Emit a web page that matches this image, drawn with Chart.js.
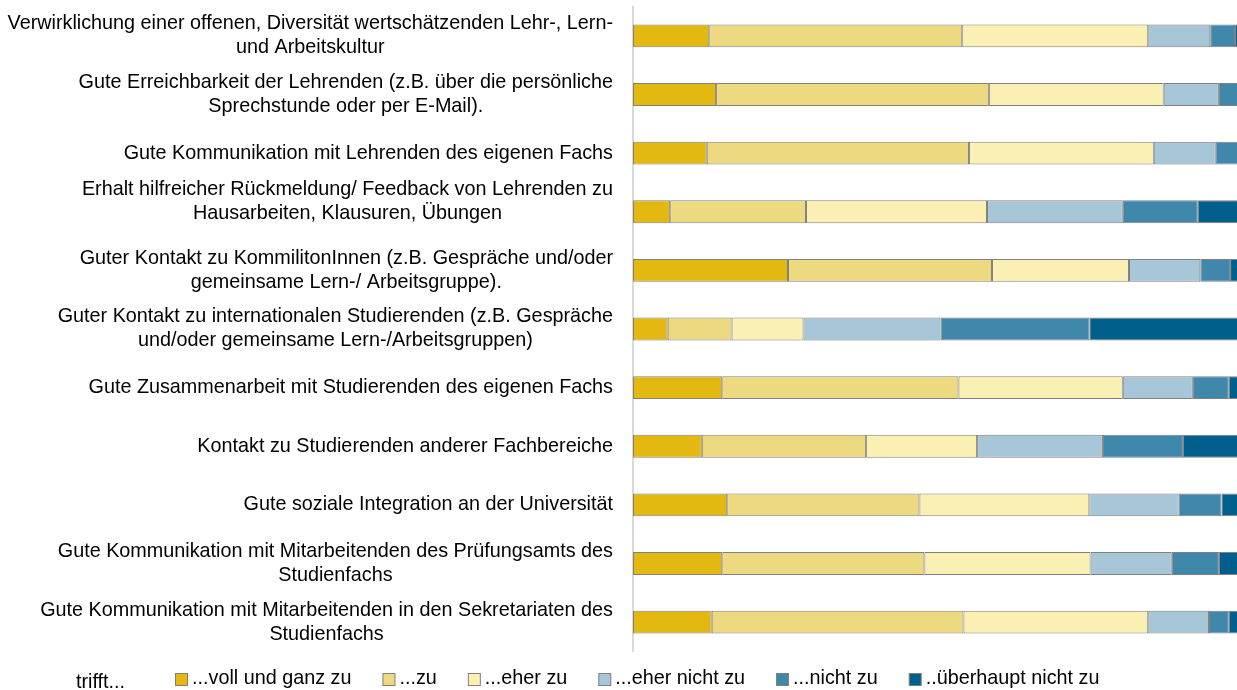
<!DOCTYPE html>
<html>
<head>
<meta charset="utf-8">
<script src="https://cdn.jsdelivr.net/npm/chart.js@4"></script>
<style>
  html, body { margin: 0; padding: 0; background: #fff; overflow: hidden; }
  #wrap { position: relative; width: 1260px; height: 690px; }
</style>
</head>
<body>
<div id="wrap"><canvas id="chart" width="1260" height="690"></canvas></div>
<script>
/* Stacked 100% bars – Zufriedenheit mit Lehr-/Lernkultur */

const categories = [
  ['Verwirklichung einer offenen, Diversität wertschätzenden Lehr-, Lern-', 'und Arbeitskultur'],
  ['Gute Erreichbarkeit der Lehrenden (z.B. über die persönliche', 'Sprechstunde oder per E-Mail).'],
  ['Gute Kommunikation mit Lehrenden des eigenen Fachs'],
  ['Erhalt hilfreicher Rückmeldung/ Feedback von Lehrenden zu', 'Hausarbeiten, Klausuren, Übungen'],
  ['Guter Kontakt zu KommilitonInnen (z.B. Gespräche und/oder', 'gemeinsame Lern-/ Arbeitsgruppe).'],
  ['Guter Kontakt zu internationalen Studierenden (z.B. Gespräche', 'und/oder gemeinsame Lern-/Arbeitsgruppen)'],
  ['Gute Zusammenarbeit mit Studierenden des eigenen Fachs'],
  ['Kontakt zu Studierenden anderer Fachbereiche'],
  ['Gute soziale Integration an der Universität'],
  ['Gute Kommunikation mit Mitarbeitenden des Prüfungsamts des', 'Studienfachs'],
  ['Gute Kommunikation mit Mitarbeitenden in den Sekretariaten des', 'Studienfachs']
];

const seriesNames = ['...voll und ganz zu', '...zu', '...eher zu', '...eher nicht zu', '...nicht zu', '..überhaupt nicht zu'];
const seriesColors = ['#e2b811', '#edd97f', '#fbf0b4', '#a7c6d8', '#3f87ab', '#005f8c'];

// percentages per answer category
const vollUndGanz = [12.3, 13.4, 11.9,  6.0, 25.0,  5.6, 14.4, 11.1, 15.2, 14.4, 12.7];
const zu          = [40.8, 44.0, 42.3, 21.9, 32.9, 10.3, 38.1, 26.5, 31.0, 32.6, 40.6];
const eherZu      = [30.0, 28.2, 29.8, 29.2, 22.1, 11.6, 26.5, 17.9, 27.4, 26.8, 29.8];
const eherNicht   = [10.0,  8.9, 10.0, 21.9, 11.5, 22.1, 11.3, 20.3, 14.4, 13.1,  9.8];
const nichtZu     = [ 4.0,  3.4,  3.9, 12.1,  4.8, 24.0,  5.8, 12.9,  6.9,  7.6,  3.2];
const ueberhaupt  = [ 2.9,  2.1,  2.1,  8.9,  3.7, 26.4,  3.9, 11.3,  5.1,  5.5,  3.9];

const seriesData = [vollUndGanz, zu, eherZu, eherNicht, nichtZu, ueberhaupt];
const legendPrefix = 'trifft...';

const FONT = '19.8px "Liberation Sans", Arial, sans-serif';

// draws the (multi-line, centered) category labels right-aligned next to the axis
const categoryLabels = {
  id: 'categoryLabels',
  afterDraw(chart) {
    const ctx = chart.ctx;
    const yScale = chart.scales.y;
    const right = chart.chartArea.left - 20;
    const lineH = 24;
    const nudge = { 3: -10 };  // the feedback label sits a bit higher in the original
    ctx.save();
    ctx.font = FONT;
    ctx.fillStyle = '#000';
    ctx.textAlign = 'center';
    ctx.textBaseline = 'middle';
    categories.forEach((lines, i) => {
      const y = yScale.getPixelForValue(i) + (nudge[i] || 0);
      const w = Math.max(...lines.map(l => ctx.measureText(l).width));
      const cx = right - w / 2;
      const y0 = y - (lines.length - 1) * lineH / 2;
      lines.forEach((l, k) => ctx.fillText(l, cx, y0 + k * lineH));
    });
    ctx.restore();
  }
};

// bottom legend with the "trifft..." prefix
const bottomLegend = {
  id: 'bottomLegend',
  afterDraw(chart) {
    const ctx = chart.ctx;
    const y = 679;
    ctx.save();
    ctx.font = FONT;
    ctx.textBaseline = 'middle';
    ctx.textAlign = 'left';
    ctx.fillStyle = '#000';
    ctx.fillText(legendPrefix, 76, y + 4);
    let x = 175;
    chart.data.datasets.forEach(ds => {
      ctx.fillStyle = ds.backgroundColor;
      ctx.fillRect(x + 0.5, y - 5.5, 12, 12);
      ctx.strokeStyle = '#7f7f7f';
      ctx.lineWidth = 1;
      ctx.strokeRect(x + 0.5, y - 5.5, 12, 12);
      x += 17;
      ctx.fillStyle = '#000';
      ctx.fillText(ds.label, x, y);
      x += ctx.measureText(ds.label).width + 31;
    });
    ctx.restore();
  }
};

new Chart(document.getElementById('chart'), {
  type: 'bar',
  data: {
    labels: categories,
    datasets: seriesNames.map((name, i) => ({
      label: name,
      data: seriesData[i],
      backgroundColor: seriesColors[i],
      borderColor: '#808080',
      borderWidth: 1,
      borderSkipped: false,
      barPercentage: 0.39,
      categoryPercentage: 1.0
    }))
  },
  options: {
    indexAxis: 'y',
    responsive: false,
    animation: false,
    layout: { padding: { top: 6.5, bottom: 38.5, left: 0, right: 7 } },
    plugins: {
      legend: { display: false },
      tooltip: { enabled: false }
    },
    scales: {
      x: { stacked: true, min: 0, max: 100, display: false },
      y: {
        stacked: true,
        ticks: { display: false },
        grid: { display: false },
        border: { display: true, color: '#d9d9d9', width: 2 },
        afterFit: (scale) => { scale.width = 633; }
      }
    }
  },
  plugins: [categoryLabels, bottomLegend]
});
</script>
</body>
</html>
